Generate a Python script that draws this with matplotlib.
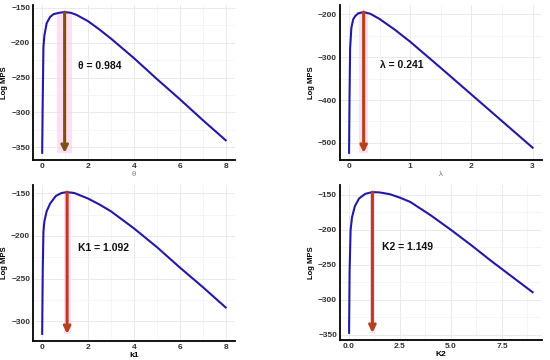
import numpy as np
import matplotlib.pyplot as plt
from matplotlib.ticker import MultipleLocator

plt.rcParams['font.family'] = ['Liberation Sans', 'DejaVu Sans']

# painel 1 - theta
theta_x = [0.005, 0.03, 0.06, 0.1, 0.2, 0.35, 0.5, 0.75, 0.984, 1.25, 1.5, 2, 2.5, 3, 3.5, 4, 5, 6, 7, 8]
theta_y = [-358, -280, -206, -190, -172, -163, -159, -157, -156, -157, -160, -169, -181, -194, -208, -222, -252, -281, -311, -340]
theta_est = 0.984

# painel 2 - lambda
lambda_x = [0.003, 0.01, 0.02, 0.04, 0.07, 0.1, 0.15, 0.241, 0.35, 0.5, 0.75, 1, 1.5, 2, 2.5, 3]
lambda_y = [-523, -400, -280, -232, -212, -205, -198, -195, -199, -211, -236, -264, -325, -387, -449, -511]
lambda_est = 0.241

# painel 3 - k1
k1_x = [0.005, 0.03, 0.06, 0.1, 0.2, 0.35, 0.6, 0.85, 1.092, 1.4, 2, 2.5, 3, 4, 5, 6, 7, 8]
k1_y = [-315, -240, -195, -183, -171, -162, -153, -149.5, -148.5, -149.5, -156, -163, -171, -191, -213, -237, -260, -284]
k1_est = 1.092

# painel 4 - k2
k2_x = [0.005, 0.03, 0.08, 0.15, 0.29, 0.5, 0.8, 1.149, 1.5, 2, 2.5, 3, 4, 5, 6, 7, 8, 9]
k2_y = [-347, -260, -200, -182, -166, -155, -148.5, -146, -146.5, -149, -154, -160, -179, -200, -222, -245, -267, -289]
k2_est = 1.149

paineis = [
    dict(x=theta_x, y=theta_y, est=theta_est, rect=[0.06, 0.556, 0.367, 0.43],
         xlab='θ', xbold=False, texto='θ = 0.984', tpos=(1.57, -233),
         cor='#7a5018', banda=0.33, xmaj=2, xmin=1, ymaj=50, ymin=25, xfmt='{:g}'),
    dict(x=lambda_x, y=lambda_y, est=lambda_est, rect=[0.618, 0.556, 0.367, 0.43],
         xlab='λ', xbold=False, texto='λ = 0.241', tpos=(0.5, -318),
         cor='#b5401c', banda=0.07, xmaj=1, xmin=0.5, ymaj=100, ymin=50, xfmt='{:g}'),
    dict(x=k1_x, y=k1_y, est=k1_est, rect=[0.06, 0.053, 0.367, 0.433],
         xlab='k1', xbold=True, texto='K1 = 1.092', tpos=(1.57, -214),
         cor='#b5401c', banda=0.15, xmaj=2, xmin=1, ymaj=50, ymin=25, xfmt='{:g}'),
    dict(x=k2_x, y=k2_y, est=k2_est, rect=[0.618, 0.056, 0.367, 0.43],
         xlab='K2', xbold=True, texto='K2 = 1.149', tpos=(1.6, -224),
         cor='#b5401c', banda=0.14, xmaj=2.5, xmin=1.25, ymaj=50, ymin=25, xfmt='{:.1f}'),
]

fig = plt.figure(figsize=(5.5, 3.6), dpi=100)

for p in paineis:
    ax = fig.add_axes(p['rect'])
    ymax = max(p['y'])
    ymin = min(p['y'])

    # faixa rosa atras da seta
    ax.fill_between([p['est'] - p['banda'], p['est'] + p['banda']], ymin, ymax,
                    color='#ffd2ec', alpha=0.7, lw=0, zorder=1)

    ax.plot(p['x'], p['y'], color='#2419a3', lw=1.5, zorder=3)

    ax.annotate('', xy=(p['est'], ymin), xytext=(p['est'], ymax),
                arrowprops=dict(arrowstyle='->', color=p['cor'], lw=2.2,
                                mutation_scale=10, shrinkA=0, shrinkB=0),
                zorder=4)

    ax.text(p['tpos'][0], p['tpos'][1], p['texto'], fontsize=7.5,
            fontweight='bold', va='center', ha='left', color='#111111')

    ax.margins(x=0.05, y=0.05)
    ax.xaxis.set_major_locator(MultipleLocator(p['xmaj']))
    ax.xaxis.set_minor_locator(MultipleLocator(p['xmin']))
    ax.yaxis.set_major_locator(MultipleLocator(p['ymaj']))
    ax.yaxis.set_minor_locator(MultipleLocator(p['ymin']))

    xl = ax.get_xlim()
    ticks = [t for t in np.arange(0, xl[1], p['xmaj']) if t >= xl[0]]
    ax.set_xticks(ticks)
    ax.set_xticklabels([p['xfmt'].format(t) for t in ticks])
    ax.set_xlim(xl)

    ax.grid(True, which='major', color='#e6e6e6', lw=0.6, zorder=0)
    ax.grid(True, which='minor', color='#f2f2f2', lw=0.5, zorder=0)
    ax.set_axisbelow(True)

    for s in ['top', 'right']:
        ax.spines[s].set_visible(False)
    for s in ['left', 'bottom']:
        ax.spines[s].set_color('black')
        ax.spines[s].set_linewidth(1.3)

    ax.tick_params(which='both', length=0, pad=2)
    ax.tick_params(labelsize=6, labelcolor='#333333')
    for lab in ax.get_xticklabels() + ax.get_yticklabels():
        lab.set_fontweight('bold')

    ax.set_ylabel('Log MPS', fontsize=5.5, fontweight='bold', labelpad=2)
    if p['xbold']:
        ax.set_xlabel(p['xlab'], fontsize=6, fontweight='bold', labelpad=1)
    else:
        ax.set_xlabel(p['xlab'], fontsize=5.5, color='#777777', labelpad=1)

fig.savefig('out.png', dpi=100)
